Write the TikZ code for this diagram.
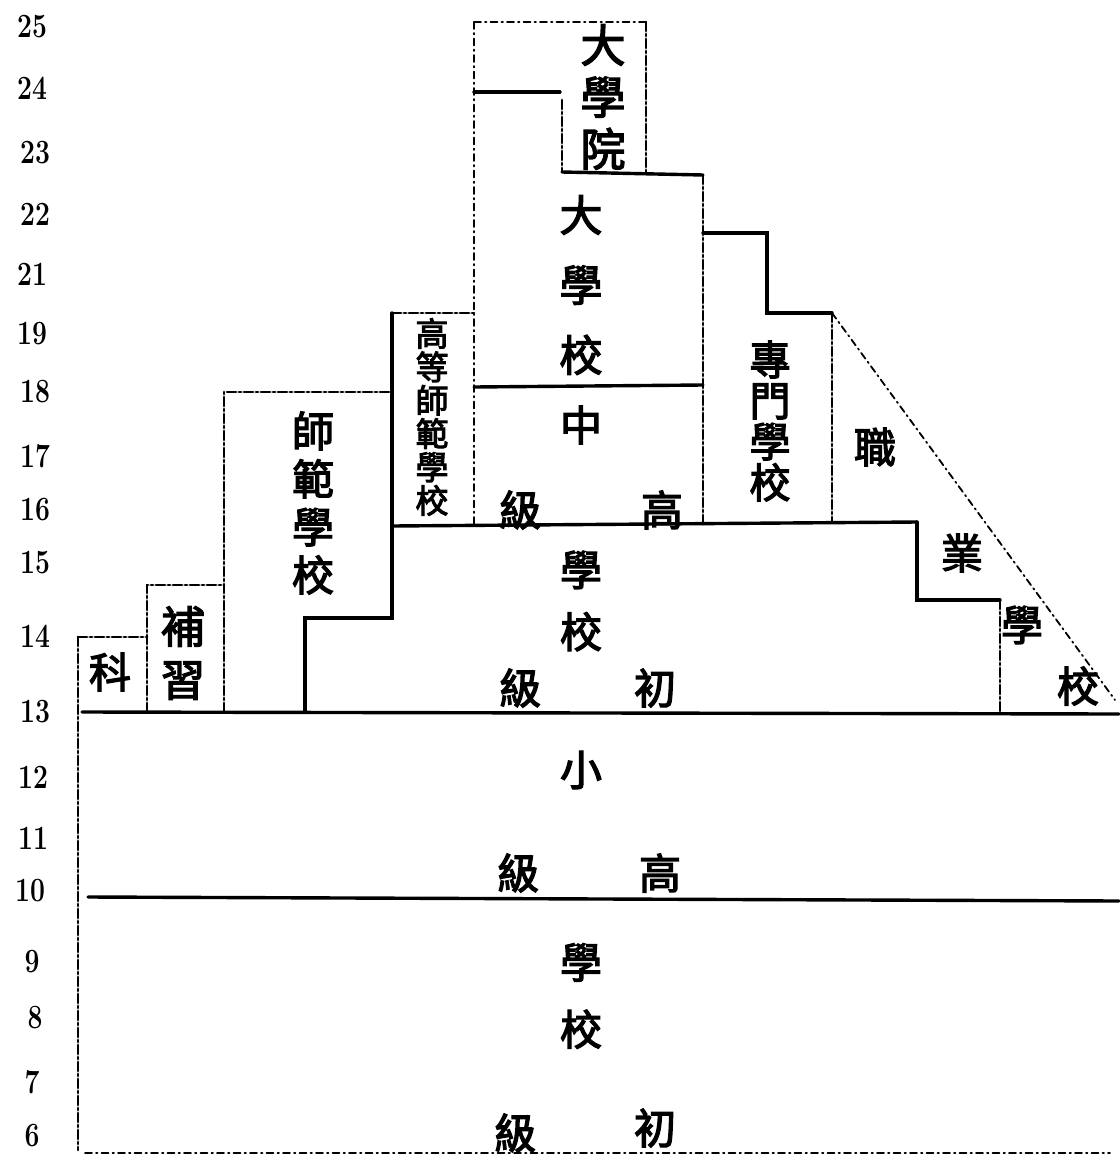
\documentclass[tikz,border=0pt]{standalone}
\usepackage{fontspec}
\newfontfamily\cjk[FakeBold=3]{Noto Sans CJK TC}
\tikzset{
  solidrule/.style={line width=3.4pt},
  dashrule/.style={line width=2.8pt, dash pattern=on 9pt off 3pt on 2pt off 3pt},
  thinrule/.style={line width=1.8pt, dash pattern=on 7pt off 4pt on 1.5pt off 4pt},
  yearlabel/.style={font=\fontsize{34}{34}\selectfont\bfseries, xscale=0.78, inner sep=0pt},
  hanzi/.style={font=\cjk\fontsize{42}{42}\selectfont, inner sep=0pt, align=center},
}
\begin{document}
\begin{tikzpicture}[x=1pt, y=-1pt, line cap=round]
  \useasboundingbox (0,0) rectangle (1119,1159);
  % year scale
  \node[yearlabel] (y25) at (32,27) {25};
  \node[yearlabel] (y24) at (32,88) {24};
  \node[yearlabel] (y23) at (35,153) {23};
  \node[yearlabel] (y22) at (35,214) {22};
  \node[yearlabel] (y21) at (32,274) {21};
  \node[yearlabel] (y19) at (32,334) {19};
  \node[yearlabel] (y18) at (35,392) {18};
  \node[yearlabel] (y17) at (35,456) {17};
  \node[yearlabel] (y16) at (35,510) {16};
  \node[yearlabel] (y15) at (35,563) {15};
  \node[yearlabel] (y14) at (35,636) {14};
  \node[yearlabel] (y13) at (35,712) {13};
  \node[yearlabel] (y12) at (33,777) {12};
  \node[yearlabel] (y11) at (33,838) {11};
  \node[yearlabel] (y10) at (30,891) {10};
  \node[yearlabel] (y9) at (32,962) {9};
  \node[yearlabel] (y8) at (35,1018) {8};
  \node[yearlabel] (y7) at (32,1082) {7};
  \node[yearlabel] (y6) at (32,1136) {6};
  % primary school
  \draw[solidrule] (82,712) -- (1119,714);
  \draw[solidrule] (88,897) -- (1119,901);
  \draw[dashrule] (78,637) -- (78,1150);
  \draw[thinrule] (85,1153) -- (1110,1153);
  % supplementary and normal schools
  \draw[dashrule] (78,637) -- (147,637);
  \draw[dashrule] (147,712) -- (147,585) -- (224,585);
  \draw[dashrule] (224,712) -- (224,392) -- (392,392);
  \draw[solidrule] (392,313) -- (392,618) -- (305,618) -- (305,712);
  \draw[dashrule] (392,313) -- (474,313);
  % university
  \draw[thinrule] (474,22) -- (474,527);
  \draw[thinrule] (474,22) -- (646,22);
  \draw[solidrule] (474,92) -- (560,92);
  \draw[dashrule] (562,100) -- (562,172);
  \draw[dashrule] (646,22) -- (646,172);
  \draw[solidrule] (562,172) -- (703,175);
  \draw[dashrule] (703,175) -- (703,525);
  \draw[solidrule] (474,387) -- (703,385);
  % middle school and special schools
  \draw[solidrule] (392,526) -- (917,522);
  \draw[solidrule] (703,233) -- (767,233) -- (767,313) -- (832,313);
  \draw[dashrule] (832,313) -- (832,522);
  \draw[solidrule] (917,522) -- (917,600) -- (1000,600);
  \draw[dashrule] (1000,600) -- (1000,712);
  \draw[thinrule] (832,313) -- (1115,700);
  % labels
  \node[hanzi, font=\cjk\fontsize{45}{52}\selectfont] (dxy) at (603,97) {大\\學\\院};
  \node[hanzi, font=\cjk\fontsize{43}{70}\selectfont] (dxx) at (581,285) {大\\學\\校};
  \node[hanzi] (zhong) at (581,425) {中};
  \node[hanzi] (gaoji) at (520,510) {級};
  \node[hanzi] (gao) at (662,510) {高};
  \node[hanzi, font=\cjk\fontsize{42}{62}\selectfont] (zxx) at (581,601) {學\\校};
  \node[hanzi] (chuji) at (520,688) {級};
  \node[hanzi] (chu) at (655,688) {初};
  \node[hanzi] (xiao) at (581,770) {小};
  \node[hanzi] (xgaoji) at (518,873) {級};
  \node[hanzi] (xgao) at (660,873) {高};
  \node[hanzi, font=\cjk\fontsize{42}{67}\selectfont] (xxx) at (581,996) {學\\校};
  \node[hanzi] (xchuji) at (515,1133) {級};
  \node[hanzi] (xchu) at (655,1128) {初};
  \node[hanzi, font=\cjk\fontsize{42}{48}\selectfont] (sfxx) at (313,503) {師\\範\\學\\校};
  \node[hanzi, font=\cjk\fontsize{33}{33.4}\selectfont] (gdsf) at (432,417) {高\\等\\師\\範\\學\\校};
  \node[hanzi, font=\cjk\fontsize{41}{41}\selectfont] (zmxx) at (770,421) {專\\門\\學\\校};
  \node[hanzi] (zhi) at (875,447) {職};
  \node[hanzi] (ye) at (962,553) {業};
  \node[hanzi] (zyxue) at (1022,625) {學};
  \node[hanzi] (zyxiao) at (1078,686) {校};
  \node[hanzi, font=\cjk\fontsize{44}{53}\selectfont] (buxi) at (183,653) {補\\習};
  \node[hanzi] (ke) at (110,672) {科};
\end{tikzpicture}
\end{document}
